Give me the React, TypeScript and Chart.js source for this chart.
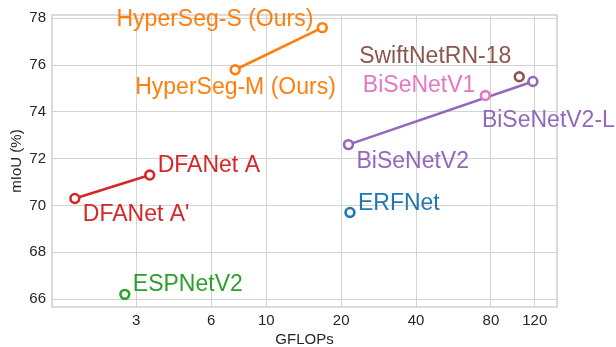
import React, { useEffect, useRef } from "react";
import { Chart, registerables } from "chart.js";

Chart.register(...registerables);

const FONT = "'Liberation Sans', Arial, Helvetica, sans-serif";

// ---- data (GFLOPs, mIoU) ----
const hyperSegNames = ["HyperSeg-M (Ours)", "HyperSeg-S (Ours)"];
const hyperSegGflops = [7.5, 16.8];
const hyperSegMiou = [75.8, 77.6];

const dfanetNames = ["DFANet A'", "DFANet A"];
const dfanetGflops = [1.7, 3.4];
const dfanetMiou = [70.3, 71.3];

const bisenetV2Names = ["BiSeNetV2", "BiSeNetV2-L"];
const bisenetV2Gflops = [21.4, 118];
const bisenetV2Miou = [72.6, 75.3];

const bisenetV1Names = ["BiSeNetV1"];
const bisenetV1Gflops = [76];
const bisenetV1Miou = [74.7];

const swiftNetNames = ["SwiftNetRN-18"];
const swiftNetGflops = [104];
const swiftNetMiou = [75.5];

const erfNetNames = ["ERFNet"];
const erfNetGflops = [21.7];
const erfNetMiou = [69.7];

const espNetNames = ["ESPNetV2"];
const espNetGflops = [2.7];
const espNetMiou = [66.2];

const xTickValues = [3, 6, 10, 20, 40, 80, 120];
const yTickValues = [66, 68, 70, 72, 74, 76, 78];

// ---- styles ----
const COLORS = {
  blue: "#1f77b4",
  orange: "#ff7f0e",
  green: "#2ca02c",
  red: "#d62728",
  purple: "#9467bd",
  brown: "#8c564b",
  pink: "#e377c2",
};

// label placement relative to the point (pixels)
const labelLayout: Record<string, { align: CanvasTextAlign; dx: number; dy: number }> = {
  "HyperSeg-S (Ours)": { align: "right", dx: -9, dy: -8 },
  "HyperSeg-M (Ours)": { align: "left", dx: -100, dy: 18 },
  "SwiftNetRN-18": { align: "right", dx: -8, dy: -20 },
  "BiSeNetV1": { align: "right", dx: -10, dy: -10 },
  "BiSeNetV2-L": { align: "left", dx: -51, dy: 39 },
  "BiSeNetV2": { align: "left", dx: 8, dy: 17 },
  "ERFNet": { align: "left", dx: 8, dy: -9 },
  "DFANet A": { align: "left", dx: 8, dy: -9 },
  "DFANet A'": { align: "left", dx: 8, dy: 16 },
  "ESPNetV2": { align: "left", dx: 8, dy: -10 },
};

function pts(xs: number[], ys: number[]) {
  return xs.map((x, i) => ({ x, y: ys[i] }));
}

function makeSet(names: string[], xs: number[], ys: number[], color: string, line: boolean) {
  return {
    label: names.join(" / "),
    names,
    data: pts(xs, ys),
    showLine: line,
    borderColor: color,
    backgroundColor: "#ffffff",
    borderWidth: 2.6,
    pointRadius: 4.4,
    pointBorderWidth: 2.6,
    pointBorderColor: color,
    pointBackgroundColor: "#ffffff",
    textColor: color,
  };
}

const framePlugin = {
  id: "frame",
  beforeDatasetsDraw(chart: any) {
    const { ctx, chartArea } = chart;
    ctx.save();
    ctx.strokeStyle = "#cfcfcf";
    ctx.lineWidth = 1.5;
    ctx.strokeRect(chartArea.left, chartArea.top, chartArea.right - chartArea.left, chartArea.bottom - chartArea.top);
    ctx.restore();
  },
};

const labelPlugin = {
  id: "pointLabels",
  afterDatasetsDraw(chart: any) {
    const { ctx } = chart;
    ctx.save();
    ctx.font = `23px ${FONT}`;
    ctx.textBaseline = "middle";
    chart.data.datasets.forEach((ds: any, di: number) => {
      const meta = chart.getDatasetMeta(di);
      meta.data.forEach((el: any, i: number) => {
        const name = ds.names[i];
        const lay = labelLayout[name];
        if (!lay) return;
        ctx.fillStyle = ds.textColor;
        ctx.textAlign = lay.align;
        ctx.fillText(name, el.x + lay.dx, el.y + lay.dy);
      });
    });
    ctx.restore();
  },
};

export default function App() {
  const ref = useRef<HTMLCanvasElement | null>(null);

  useEffect(() => {
    if (!ref.current) return;
    const chart = new Chart(ref.current, {
      type: "scatter",
      data: {
        datasets: [
          makeSet(bisenetV1Names, bisenetV1Gflops, bisenetV1Miou, COLORS.pink, false),
          makeSet(swiftNetNames, swiftNetGflops, swiftNetMiou, COLORS.brown, false),
          makeSet(hyperSegNames, hyperSegGflops, hyperSegMiou, COLORS.orange, true),
          makeSet(dfanetNames, dfanetGflops, dfanetMiou, COLORS.red, true),
          makeSet(bisenetV2Names, bisenetV2Gflops, bisenetV2Miou, COLORS.purple, true),
          makeSet(erfNetNames, erfNetGflops, erfNetMiou, COLORS.blue, false),
          makeSet(espNetNames, espNetGflops, espNetMiou, COLORS.green, false),
        ] as any,
      },
      options: {
        animation: false,
        responsive: false,
        maintainAspectRatio: false,
        layout: { padding: { left: 0, right: 59, top: 12, bottom: 0 } },
        plugins: {
          legend: { display: false },
          tooltip: { enabled: false },
        },
        scales: {
          x: {
            type: "logarithmic",
            min: 1.376,
            max: 147.5,
            afterBuildTicks: (scale: any) => {
              scale.ticks = xTickValues.map((v) => ({ value: v }));
            },
            afterFit: (scale: any) => {
              scale.height = 40;
            },
            ticks: {
              autoSkip: false,
              maxRotation: 0,
              padding: 5,
              color: "#262626",
              font: { family: FONT, size: 15 },
              callback: (v: any) => String(v),
            },
            grid: { color: "#d3d3d3", lineWidth: 1, drawTicks: false },
            border: { display: false },
            title: {
              display: true,
              text: "GFLOPs",
              color: "#262626",
              font: { family: FONT, size: 15, lineHeight: 1 },
              padding: 0,
            },
          },
          y: {
            type: "linear",
            min: 65.66,
            max: 78.14,
            afterBuildTicks: (scale: any) => {
              scale.ticks = yTickValues.map((v) => ({ value: v }));
            },
            afterFit: (scale: any) => {
              scale.width = 52;
            },
            ticks: {
              padding: 6,
              color: "#262626",
              font: { family: FONT, size: 15 },
              callback: (v: any) => String(v),
            },
            grid: { color: "#d3d3d3", lineWidth: 1, drawTicks: false },
            border: { display: false },
            title: {
              display: true,
              text: "mIoU (%)",
              color: "#262626",
              font: { family: FONT, size: 15, lineHeight: 1.2 },
              padding: { top: 8, bottom: 0 },
            },
          },
        },
      } as any,
      plugins: [framePlugin, labelPlugin],
    });
    return () => chart.destroy();
  }, []);

  return (
    <div style={{ position: "fixed", left: 0, top: 0, width: 616, height: 347, background: "#ffffff" }}>
      <canvas ref={ref} width={616} height={347} style={{ display: "block", width: 616, height: 347 }} />
    </div>
  );
}
